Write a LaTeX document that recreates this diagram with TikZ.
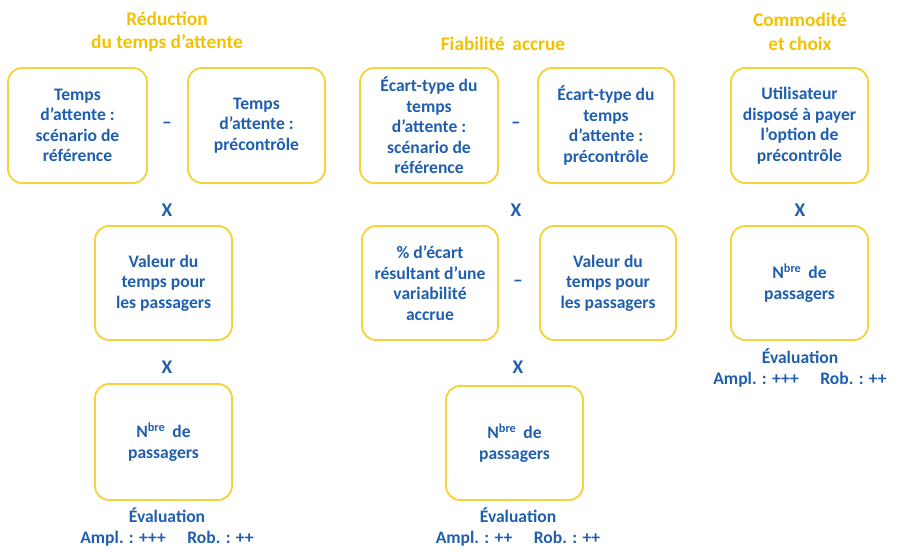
\documentclass[tikz,border=0pt]{standalone}
\usepackage{fontspec}
\setmainfont{Carlito}
\begin{document}
\definecolor{tblue}{HTML}{1F5FAE}
\definecolor{tgold}{HTML}{F2C200}
\definecolor{bgold}{HTML}{F5D33C}
\begin{tikzpicture}[x=0.03cm,y=-0.03cm,
  box/.style={draw=bgold,line width=1.6pt,rounded corners=12pt,align=center,
    text=tblue,font=\fontsize{15}{17.5}\selectfont\bfseries,inner sep=0pt},
  op/.style={text=tblue,font=\fontsize{16.5}{18}\selectfont\bfseries},
  ttl/.style={text=tgold,align=center,font=\fontsize{16.5}{20}\selectfont\bfseries},
  ev/.style={text=tblue,align=center,font=\fontsize{15}{18}\selectfont\bfseries}]
\useasboundingbox (0,0) rectangle (900,556);
\newcommand{\bx}[6]{\node[box,minimum width=#4*0.03cm,minimum height=#5*0.03cm] (#1) at (#2,#3) {#6};}
% column 1
\node[ttl] (t1) at (167,32) {Réduction\\du temps d’attente};
\bx{a1}{77.5}{125.5}{139}{115}{Temps\\d’attente :\\scénario de\\référence}
\bx{a2}{256.5}{125.5}{137}{115}{Temps\\d’attente :\\précontrôle}
\node[op] (m1) at (167,125) {–};
\node[op] (x1) at (167,210) {X};
\bx{a3}{163.5}{283}{137}{114}{Valeur du\\temps pour\\les passagers}
\node[op] (x2) at (167,367) {X};
\bx{a4}{163.5}{442}{137}{116}{N\textsuperscript{bre}\, de\\passagers}
\node[ev] (e1) at (167,527) {Évaluation\\Ampl. : +++\quad\ Rob. : ++};
% column 2
\node[ttl] (t2) at (503,44) {Fiabilité\, accrue};
\bx{b1}{429}{125.5}{138}{115}{Écart-type du\\temps\\d’attente :\\scénario de\\référence}
\bx{b2}{606}{125.5}{136}{115}{Écart-type du\\temps\\d’attente :\\précontrôle}
\node[op] (m2) at (516,125) {–};
\node[op] (x3) at (516,210) {X};
\bx{b3}{430}{283}{136}{114}{\% d’écart\\résultant d’une\\variabilité\\accrue}
\bx{b4}{608}{283}{136}{114}{Valeur du\\temps pour\\les passagers}
\node[op] (m3) at (518,283) {–};
\node[op] (x4) at (518,367) {X};
\bx{b5}{514.5}{443}{137}{114}{N\textsuperscript{bre}\, de\\passagers}
\node[ev] (e2) at (518,527) {Évaluation\\Ampl. : ++\quad\ Rob. : ++};
% column 3
\node[ttl] (t3) at (800,32) {Commodité\\et choix};
\bx{c1}{799.5}{125.5}{137}{115}{Utilisateur\\disposé à payer\\l’option de\\précontrôle}
\node[op] (x5) at (800,210) {X};
\bx{c2}{799.5}{283}{137}{114}{N\textsuperscript{bre}\, de\\passagers}
\node[ev] (e3) at (800,368) {Évaluation\\Ampl. : +++\quad\ Rob. : ++};
\end{tikzpicture}
\end{document}
